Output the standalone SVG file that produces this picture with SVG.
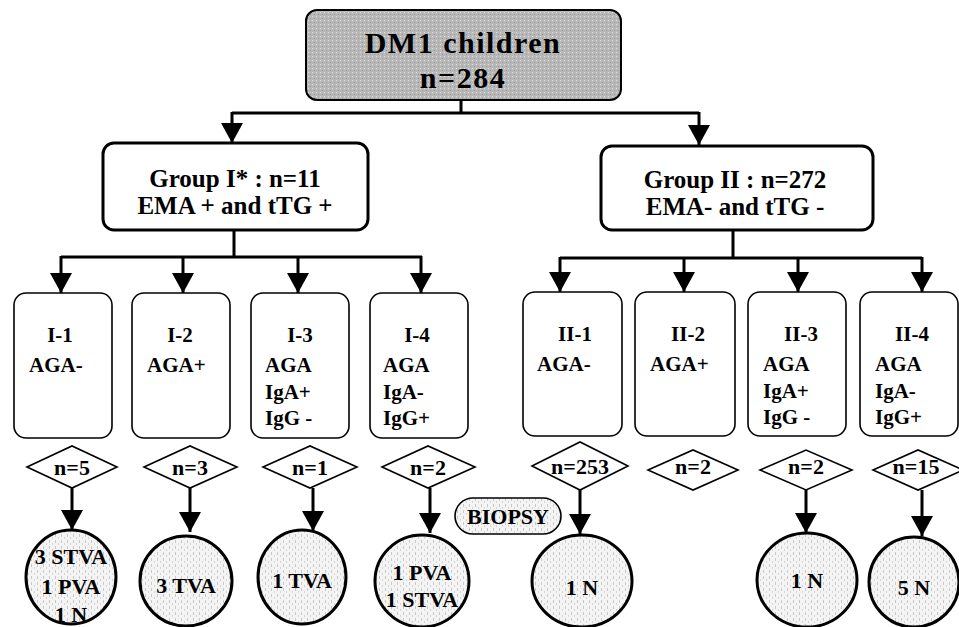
<svg xmlns="http://www.w3.org/2000/svg" width="959" height="627" viewBox="0 0 959 627">
<defs>
<style>
text{font-family:"Liberation Serif","Times New Roman",serif;font-weight:bold;fill:#000}
.t34{font-size:30px;text-anchor:middle;letter-spacing:1.5px}
.t25{font-size:25px;text-anchor:middle}
.t21{font-size:21px}
.c{text-anchor:middle}
.t22{font-size:22px;text-anchor:middle}
.box{fill:#fff;stroke:#000;stroke-width:1.6}
.grp{fill:#fff;stroke:#000;stroke-width:3}
.dia{fill:#fff;stroke:#000;stroke-width:1.6}
.circ{fill:url(#dots);stroke:#000;stroke-width:3}
.ln{fill:none;stroke:#000;stroke-width:3}
.arr{fill:none;stroke:#000;stroke-width:3;marker-end:url(#ah)}
</style>
<pattern id="dots" width="6" height="6" patternUnits="userSpaceOnUse">
<rect width="6" height="6" fill="#f4f4f4"/>
<rect x="1" y="0" width="1" height="3" fill="#c8c8c8"/>
<rect x="4" y="3" width="1" height="2" fill="#d4d4d4"/>
</pattern>
<pattern id="grey" width="4" height="4" patternUnits="userSpaceOnUse">
<rect width="4" height="4" fill="#b8b8b8"/>
<rect x="0" y="0" width="1" height="1" fill="#e0e0e0"/>
<rect x="2" y="2" width="1" height="1" fill="#949494"/>
</pattern>
<marker id="ah" viewBox="0 0 20 22" refX="20" refY="11" markerWidth="20" markerHeight="22" markerUnits="userSpaceOnUse" orient="auto">
<path d="M0,0 L20,11 L0,22 z" fill="#000"/>
</marker>
</defs>

<g id="connectors">
<path class="ln" d="M461,100 V113 M232,113 H699"/>
<path class="arr" d="M232,112 V143"/>
<path class="arr" d="M699,112 V145"/>
<path class="ln" d="M234,230 V257 M61,257 H422"/>
<path class="arr" d="M61,256 V293"/>
<path class="arr" d="M183,256 V293"/>
<path class="arr" d="M298,256 V293"/>
<path class="arr" d="M421,256 V293"/>
<path class="ln" d="M733,230 V258 M560,258 H922"/>
<path class="arr" d="M560,257 V292"/>
<path class="arr" d="M684,257 V292"/>
<path class="arr" d="M798,257 V292"/>
<path class="arr" d="M922,257 V292"/>
<path class="arr" d="M72,488 V530"/>
<path class="arr" d="M190,488 V532"/>
<path class="arr" d="M313,488 V531"/>
<path class="arr" d="M430,488 V533"/>
<path class="arr" d="M580,490 V534"/>
<path class="arr" d="M806,490 V533"/>
<path class="arr" d="M922,490 V536"/>
</g>

<g id="root">
<rect x="306" y="10" width="315" height="90" rx="11" fill="url(#grey)" stroke="#000" stroke-width="2"/>
<text class="t34" x="463" y="53">DM1 children</text>
<text class="t34" x="463" y="88">n=284</text>
</g>

<g id="groupI">
<rect class="grp" x="103" y="143" width="265" height="87" rx="11"/>
<text class="t25" x="235" y="187">Group I* : n=11</text>
<text class="t25" x="235" y="214">EMA + and tTG +</text>
</g>

<g id="groupII">
<rect class="grp" x="601" y="146" width="272" height="84" rx="11"/>
<text class="t25" x="735" y="188">Group II : n=272</text>
<text class="t25" x="735" y="215">EMA- and tTG -</text>
</g>

<g id="I-1">
<rect class="box" x="14" y="293" width="98" height="145" rx="12"/>
<text class="t21 c" x="60" y="342">I-1</text>
<text class="t21" x="29" y="372">AGA-</text>
</g>
<g id="I-2">
<rect class="box" x="132" y="293" width="98" height="145" rx="12"/>
<text class="t21 c" x="180" y="342">I-2</text>
<text class="t21" x="147" y="372">AGA+</text>
</g>
<g id="I-3">
<rect class="box" x="251" y="293" width="98" height="145" rx="12"/>
<text class="t21 c" x="300" y="342">I-3</text>
<text class="t21" x="265" y="372">AGA</text>
<text class="t21" x="265" y="399">IgA+</text>
<text class="t21" x="265" y="425">IgG -</text>
</g>
<g id="I-4">
<rect class="box" x="370" y="293" width="98" height="145" rx="12"/>
<text class="t21 c" x="417" y="342">I-4</text>
<text class="t21" x="383" y="372">AGA</text>
<text class="t21" x="383" y="399">IgA-</text>
<text class="t21" x="383" y="425">IgG+</text>
</g>

<g id="II-1">
<rect class="box" x="523" y="292" width="99" height="144" rx="12"/>
<text class="t21 c" x="575" y="341">II-1</text>
<text class="t21" x="537" y="371">AGA-</text>
</g>
<g id="II-2">
<rect class="box" x="635" y="292" width="100" height="144" rx="12"/>
<text class="t21 c" x="688" y="341">II-2</text>
<text class="t21" x="650" y="371">AGA+</text>
</g>
<g id="II-3">
<rect class="box" x="748" y="292" width="98" height="144" rx="12"/>
<text class="t21 c" x="801" y="341">II-3</text>
<text class="t21" x="763" y="371">AGA</text>
<text class="t21" x="763" y="398">IgA+</text>
<text class="t21" x="763" y="424">IgG -</text>
</g>
<g id="II-4">
<rect class="box" x="860" y="292" width="98" height="144" rx="12"/>
<text class="t21 c" x="912" y="341">II-4</text>
<text class="t21" x="875" y="371">AGA</text>
<text class="t21" x="875" y="398">IgA-</text>
<text class="t21" x="875" y="424">IgG+</text>
</g>

<g id="d-I-1"><polygon class="dia" points="27,467 72,446 117,467 72,488"/><text class="t22" x="72" y="475">n=5</text></g>
<g id="d-I-2"><polygon class="dia" points="144,467 190,446 237,467 190,488"/><text class="t22" x="190" y="475">n=3</text></g>
<g id="d-I-3"><polygon class="dia" points="263,467 310,446 357,467 310,488"/><text class="t22" x="310" y="475">n=1</text></g>
<g id="d-I-4"><polygon class="dia" points="382,467 428,446 475,467 428,488"/><text class="t22" x="428" y="475">n=2</text></g>
<g id="d-II-1"><polygon class="dia" points="532,466 580,442 628,466 580,490"/><text class="t22" x="580" y="474">n=253</text></g>
<g id="d-II-2"><polygon class="dia" points="648,470 693,450 738,470 693,490"/><text class="t22" x="693" y="474">n=2</text></g>
<g id="d-II-3"><polygon class="dia" points="760,470 806,450 852,470 806,490"/><text class="t22" x="806" y="474">n=2</text></g>
<g id="d-II-4"><polygon class="dia" points="873,470 918,450 963,470 918,490"/><text class="t22" x="916" y="474">n=15</text></g>

<g id="biopsy">
<rect x="455" y="498" width="106" height="36" rx="18" fill="url(#dots)" stroke="#000" stroke-width="1.6"/>
<text class="t22" x="508" y="524">BIOPSY</text>
</g>

<g id="r-I-1">
<ellipse class="circ" cx="71" cy="577" rx="45" ry="47"/>
<text class="t22" x="71" y="564">3 STVA</text>
<text class="t22" x="71" y="594">1 PVA</text>
<text class="t22" x="71" y="622">1 N</text>
</g>
<g id="r-I-2">
<ellipse class="circ" cx="186" cy="581" rx="46" ry="45"/>
<text class="t22" x="186" y="593">3 TVA</text>
</g>
<g id="r-I-3">
<ellipse class="circ" cx="302" cy="577" rx="44" ry="47"/>
<text class="t22" x="302" y="588">1 TVA</text>
</g>
<g id="r-I-4">
<ellipse class="circ" cx="422" cy="581" rx="47" ry="46"/>
<text class="t22" x="422" y="580">1 PVA</text>
<text class="t22" x="422" y="607">1 STVA</text>
</g>
<g id="r-II-1">
<ellipse class="circ" cx="582" cy="581" rx="50" ry="46"/>
<text class="t22" x="582" y="595">1 N</text>
</g>
<g id="r-II-3">
<ellipse class="circ" cx="807" cy="580" rx="50" ry="47"/>
<text class="t22" x="807" y="588">1 N</text>
</g>
<g id="r-II-4">
<ellipse class="circ" cx="914" cy="582" rx="45" ry="45"/>
<text class="t22" x="914" y="595">5 N</text>
</g>
</svg>
